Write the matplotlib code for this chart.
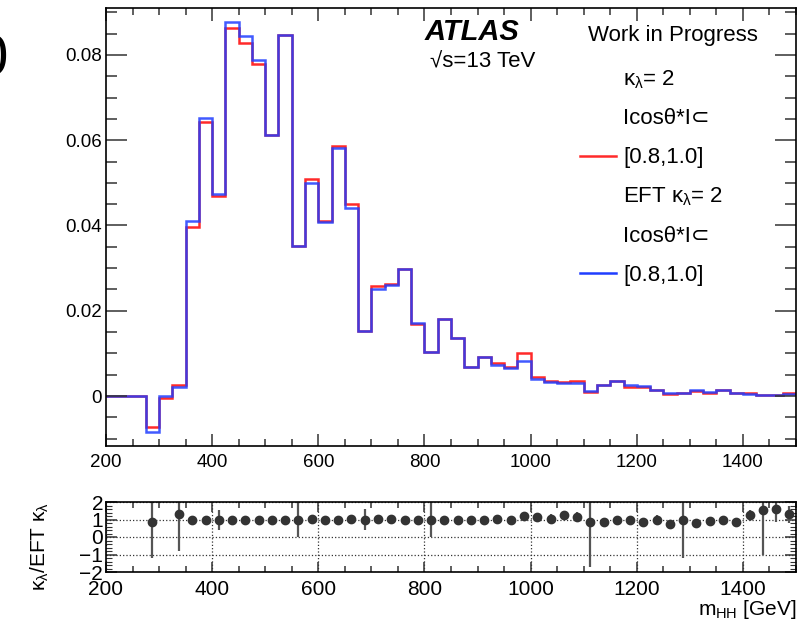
import matplotlib
matplotlib.use('Agg')
import matplotlib.pyplot as plt
from matplotlib.ticker import MultipleLocator
import numpy as np

plt.rcParams['font.family'] = ['Liberation Sans', 'DejaVu Sans']
plt.rcParams['mathtext.fontset'] = 'custom'
plt.rcParams['mathtext.rm'] = 'Liberation Sans'
plt.rcParams['mathtext.it'] = 'Liberation Sans'
plt.rcParams['mathtext.bf'] = 'Liberation Sans:bold'
plt.rcParams['xtick.direction'] = 'in'
plt.rcParams['ytick.direction'] = 'in'

# m_HH binning (25 GeV bins)
edges = np.arange(200, 1501, 25)

# normalised yields, kappa_lambda = 2, |cos theta*| in [0.8, 1.0]
kl2 = [0.0, 0.0, 0.0, -0.0072, -0.0004, 0.0026, 0.0397, 0.0642, 0.0469, 0.0862,
       0.0829, 0.0778, 0.0612, 0.0846, 0.0352, 0.0509, 0.0411, 0.0587, 0.0450, 0.0153,
       0.0258, 0.0263, 0.0297, 0.0169, 0.0104, 0.0181, 0.0135, 0.0069, 0.0091, 0.0077,
       0.0069, 0.0100, 0.0044, 0.0036, 0.0034, 0.0035, 0.0010, 0.0026, 0.0036, 0.0022,
       0.0021, 0.0014, 0.0005, 0.0006, 0.0012, 0.0008, 0.0014, 0.0006, 0.0006, 0.0002,
       0.0003, 0.0006]

# EFT kappa_lambda = 2, same cut
eft_kl2 = [0.0, 0.0, 0.0, -0.0085, 0.0, 0.0020, 0.0410, 0.0653, 0.0474, 0.0878,
           0.0845, 0.0787, 0.0612, 0.0846, 0.0352, 0.0499, 0.0409, 0.0582, 0.0442, 0.0153,
           0.0252, 0.0260, 0.0297, 0.0172, 0.0104, 0.0181, 0.0135, 0.0069, 0.0091, 0.0073,
           0.0065, 0.0083, 0.0039, 0.0034, 0.0030, 0.0030, 0.0011, 0.0027, 0.0036, 0.0025,
           0.0024, 0.0015, 0.0007, 0.0006, 0.0013, 0.0009, 0.0015, 0.0007, 0.0005, 0.0002,
           0.0002, 0.0005]

# ratio kl / EFT kl and its uncertainty (nan where EFT bin is empty)
nan = np.nan
ratio = [nan, nan, nan, 0.86, nan, 1.34, 0.99, 0.99, 0.99, 0.98,
         0.98, 0.99, 1.00, 1.00, 1.00, 1.02, 1.00, 1.00, 1.02, 1.00,
         1.02, 1.01, 1.00, 0.98, 1.00, 1.00, 1.00, 1.00, 1.00, 1.05,
         1.00, 1.22, 1.14, 1.05, 1.24, 1.17, 0.86, 0.86, 0.95, 0.95,
         0.86, 0.98, 0.72, 0.98, 0.82, 0.92, 0.95, 0.86, 1.24, 1.52,
         1.62, 1.30]
ratio_err = [nan, nan, nan, 2.04, nan, 2.14, 0.12, 0.12, 0.58, 0.12,
             0.12, 0.12, 0.12, 0.12, 1.00, 0.12, 0.12, 0.12, 0.12, 0.60,
             0.12, 0.12, 0.12, 0.12, 1.00, 0.12, 0.12, 0.20, 0.12, 0.20,
             0.15, 0.15, 0.20, 0.25, 0.25, 0.25, 2.57, 0.20, 0.15, 0.12,
             0.15, 0.25, 0.25, 2.20, 0.15, 0.15, 0.12, 0.20, 0.30, 2.57,
             0.75, 0.50]

W, H = 801, 624


def fpos(x, y):
    # pixel position from the top-left corner -> figure fraction
    return x / W, 1 - y / H


fig = plt.figure(figsize=(W / 100, H / 100), dpi=100)
ax = fig.add_axes([106/W, 1-446/H, 690/W, 438/H])
rax = fig.add_axes([106/W, 1-572/H, 690/W, 70/H])

# --- main panel
ax.stairs(kl2, edges, baseline=None, color='#ff2a2a', lw=1.8)
ax.stairs(eft_kl2, edges, baseline=None, color='#1f3dff', lw=1.8, alpha=0.85)
ax.set_xlim(200, 1500)
ax.set_ylim(-0.01172, 0.091)
ax.xaxis.set_major_locator(MultipleLocator(200))
ax.xaxis.set_minor_locator(MultipleLocator(50))
ax.yaxis.set_minor_locator(MultipleLocator(0.005))
ax.set_yticks([0, 0.02, 0.04, 0.06, 0.08])
ax.set_yticklabels(['0', '0.02', '0.04', '0.06', '0.08'])
ax.tick_params(axis='both', which='both', top=True, right=True, labelsize=13.5, color='#333333')
ax.tick_params(axis='y', which='major', length=15, width=1.1, pad=3)
ax.tick_params(axis='y', which='minor', length=8, width=1.1)
ax.tick_params(axis='x', which='major', length=9, width=1.1, pad=6)
ax.tick_params(axis='x', which='minor', length=5, width=1.1)
for s in ax.spines.values():
    s.set_linewidth(1.2)

fig.text(*fpos(425, 32), 'ATLAS', fontsize=21, fontweight='bold', fontstyle='italic',
         va='center', ha='left')
fig.text(*fpos(430, 62), '√s=13 TeV', fontsize=16, va='center', ha='left')
fig.text(*fpos(588, 36), 'Work in Progress', fontsize=16, va='center', ha='left')

# legend drawn as stacked text rows
leg_rows = [r'$\kappa_{\lambda}$= 2', 'Icosθ*I⊂', '[0.8,1.0]',
            r'EFT $\kappa_{\lambda}$= 2', 'Icosθ*I⊂', '[0.8,1.0]']
leg_y = [80, 119, 158, 197, 236, 275]
for txt, yv in zip(leg_rows, leg_y):
    fig.text(*fpos(623, yv), txt, fontsize=16, va='center', ha='left')
for yv, col in [(leg_y[2], '#ff2a2a'), (leg_y[5], '#1f3dff')]:
    x0, y0 = fpos(580, yv - 2)
    x1, _ = fpos(616, yv - 2)
    fig.add_artist(plt.Line2D([x0, x1], [y0, y0], color=col, lw=1.8,
                              transform=fig.transFigure))

# --- ratio panel
centers = 0.5 * (edges[:-1] + edges[1:])
rax.errorbar(centers, ratio, yerr=ratio_err, fmt='o', color='#333333', ecolor='#555555',
             markersize=6, elinewidth=1.6, capsize=0)
rax.set_xlim(200, 1500)
rax.set_ylim(-2, 2)
rax.xaxis.set_major_locator(MultipleLocator(200))
rax.xaxis.set_minor_locator(MultipleLocator(50))
rax.set_yticks([-2, -1, 0, 1, 2])
rax.set_yticklabels(['−2', '−1', '0', '1', '2'])
rax.yaxis.set_minor_locator(MultipleLocator(0.2))
rax.grid(which='major', ls=':', color='#333333', lw=0.9)
rax.tick_params(axis='both', which='both', top=True, right=True, labelsize=15, color='#333333')
rax.tick_params(axis='y', which='major', length=8, width=1.1, pad=2)
rax.tick_params(axis='y', which='minor', length=4, width=0.8)
rax.tick_params(axis='x', which='major', length=7, width=1.1, pad=6)
rax.tick_params(axis='x', which='minor', length=4, width=1.1)
for s in rax.spines.values():
    s.set_linewidth(1.2)
fig.text(*fpos(797, 615), r'$m_{\mathrm{HH}}$ [GeV]', fontsize=15, ha='right', va='baseline')
fig.text(*fpos(40, 547), r'$\kappa_{\lambda}$/EFT $\kappa_{\lambda}$', fontsize=15,
         rotation=90, ha='center', va='center')

# stray character at the left edge
fig.text(*fpos(8, 60), '0', fontsize=42, ha='right', va='center')

fig.savefig('out.png', dpi=100)
